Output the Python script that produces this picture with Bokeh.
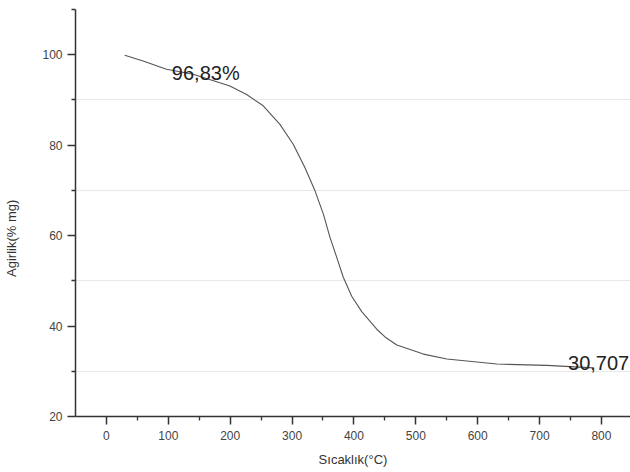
from bokeh.plotting import figure
from bokeh.models import FixedTicker, Label, Range1d
from bokeh.embed import file_html
from bokeh.resources import INLINE

# Data (temperature °C, weight %)
temperature = [29.6, 59.2, 97.1, 140.1, 183.3, 199.5, 226.5, 253.4, 280.4, 301.9,
               320.9, 337.1, 350.5, 361.3, 372.2, 382.8, 396.4, 412.6, 436.9,
               452.0, 469.3, 512.3, 550.2, 631.1, 712.0, 787.4]
weight = [99.9, 98.6, 96.8, 95.7, 93.8, 93.1, 91.2, 88.7, 84.6, 80.2,
          75.0, 69.9, 64.8, 59.6, 55.2, 50.8, 46.6, 43.2, 39.3,
          37.4, 35.8, 33.8, 32.7, 31.6, 31.3, 30.75]

x_major = [0, 100, 200, 300, 400, 500, 600, 700, 800]
x_minor = [50, 150, 250, 350, 450, 550, 650, 750, 850]
y_major = [20, 40, 60, 80, 100]
y_minor = [30, 50, 70, 90, 110]

ann_texts = ["96,83%", "30,707"]
ann_x = [105.7, 746.0]
ann_y = [95.9, 31.8]

FONT = "Liberation Sans"

p = figure(width=630, height=472, output_backend="svg", toolbar_location=None,
           x_range=Range1d(-50, 847), y_range=Range1d(20, 110),
           min_border_left=75, min_border_right=0, min_border_top=9,
           min_border_bottom=56)
p.outline_line_color = None
p.background_fill_color = "white"
p.border_fill_color = "white"

p.line(temperature, weight, line_color="#555555", line_width=1.1)

for t, xx, yy in zip(ann_texts, ann_x, ann_y):
    p.add_layout(Label(x=xx, y=yy, text=t, text_font=FONT, text_font_size="20px",
                       text_color="#222222", text_baseline="alphabetic",
                       text_align="left"))

# axes
p.xaxis.ticker = FixedTicker(ticks=x_major, minor_ticks=x_minor)
p.yaxis.ticker = FixedTicker(ticks=y_major, minor_ticks=y_minor)
for ax in (p.xaxis, p.yaxis):
    ax.axis_line_color = "#333333"
    ax.axis_line_width = 1.5
    ax.major_tick_line_color = "#333333"
    ax.major_tick_line_width = 1.5
    ax.minor_tick_line_color = "#333333"
    ax.minor_tick_line_width = 1.3
    ax.major_tick_out = 8
    ax.major_tick_in = 0
    ax.minor_tick_out = 4
    ax.minor_tick_in = 0
    ax.major_label_text_font = FONT
    ax.major_label_text_font_size = "12px"
    ax.major_label_text_color = "#444444"
    ax.axis_label_text_font = FONT
    ax.axis_label_text_font_size = "13px"
    ax.axis_label_text_font_style = "normal"
    ax.axis_label_text_color = "#333333"

p.xaxis.major_label_standoff = 6
p.yaxis.major_label_standoff = 5
p.xaxis.axis_label = "Sıcaklık(°C)"
p.xaxis.axis_label_standoff = 9
p.yaxis.axis_label = "Agirlik(% mg)" + "\u00a0" * 14
p.yaxis.axis_label_standoff = 20

p.xgrid.visible = False
p.ygrid.ticker = FixedTicker(ticks=[30, 50, 70, 90])
p.ygrid.grid_line_color = "#e8e8e8"
p.ygrid.grid_line_width = 1

open("out.html", "w").write(file_html(p, INLINE))
